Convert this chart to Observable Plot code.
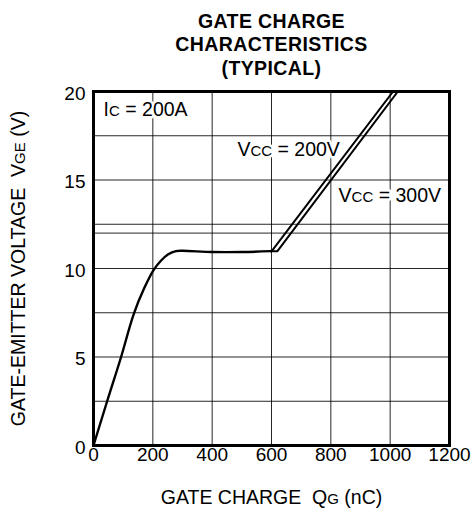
<!DOCTYPE html>
<html>
<head>
<meta charset="utf-8">
<script src="https://cdn.jsdelivr.net/npm/d3@7"></script>
<script src="https://cdn.jsdelivr.net/npm/@observablehq/plot@0.6"></script>
<style>
  html, body { margin: 0; padding: 0; background: #fff; }
  svg { display: block; }
</style>
</head>
<body>
<div id="chart"></div>
<script>
// Main curve (common part)
const qMain = [0, 46, 93, 135, 170, 203, 228, 252, 278, 300, 400, 500, 597];
const vMain = [0, 2.5, 5, 7.4, 8.85, 9.92, 10.45, 10.8, 10.98, 11.0, 10.93, 10.93, 10.98];
// VCC = 200V branch
const q200 = [597, 604, 1010];
const v200 = [10.98, 11.05, 20];
// VCC = 300V branch
const q300 = [597, 620, 1026];
const v300 = [10.98, 10.98, 20];

const xTicks = [0, 200, 400, 600, 800, 1000, 1200];
const yTicks = [0, 5, 10, 15, 20];
const xGrid = [200, 400, 600, 800, 1000];
const yGrid = [2.5, 5, 7.5, 10, 12, 12.5, 15, 17.5];

const titleLines = ["GATE CHARGE", "CHARACTERISTICS", "(TYPICAL)"];
const xLabel = "GATE CHARGE  QG (nC)";
const yLabel = "GATE-EMITTER VOLTAGE  VGE (V)";
const notes = [
  {q: 34, v: 18.95, t: "IC = 200A"},
  {q: 485, v: 16.7, t: "VCC = 200V"},
  {q: 826, v: 14.12, t: "VCC = 300V"}
];

const main = qMain.map((q, i) => ({q, v: vMain[i]}));
const b200 = q200.map((q, i) => ({q, v: v200[i]}));
const b300 = q300.map((q, i) => ({q, v: v300[i]}));

const font = "'Liberation Sans', Arial, Helvetica, sans-serif";
const FS = 19.5;
const TFS = 19;

const chart = Plot.plot({
  width: 475,
  height: 525,
  marginLeft: 93,
  marginRight: 26,
  marginTop: 91,
  marginBottom: 80,
  style: {fontFamily: font, fontSize: FS + "px", color: "#000", background: "#fff"},
  x: {domain: [0, 1200], ticks: xTicks},
  y: {domain: [0, 20], ticks: yTicks},
  marks: [
    Plot.ruleX(xGrid, {stroke: "#000", strokeWidth: 1, strokeOpacity: 0.85}),
    Plot.ruleY(yGrid, {stroke: "#000", strokeWidth: 1, strokeOpacity: 0.85}),
    Plot.axisX({ticks: xTicks, tickSize: 0, tickPadding: 2, label: null, fontSize: TFS, tickFormat: d => String(d)}),
    Plot.axisY({ticks: yTicks, tickSize: 0, tickPadding: 8, label: null, fontSize: TFS, dy: 2}),
    Plot.text(notes, {x: "q", y: "v", text: "t", textAnchor: "start", fontSize: FS, fill: "#000", stroke: "white", strokeWidth: 5, paintOrder: "stroke"}),
    Plot.line(main, {x: "q", y: "v", curve: "catmull-rom", stroke: "#000", strokeWidth: 2.4}),
    Plot.line(b200, {x: "q", y: "v", stroke: "#000", strokeWidth: 2, clip: true}),
    Plot.line(b300, {x: "q", y: "v", stroke: "#000", strokeWidth: 2, clip: true}),
    Plot.frame({stroke: "#000", strokeWidth: 3}),
    Plot.text(titleLines, {frameAnchor: "top", text: d => d, fontWeight: "bold", fontSize: FS, fill: "#000"}),
    Plot.text([xLabel], {frameAnchor: "bottom", text: d => d, dy: 52, lineAnchor: "middle", fontSize: FS, fill: "#000"}),
    Plot.text([yLabel], {frameAnchor: "left", textAnchor: "middle", lineAnchor: "middle", text: d => d, rotate: -90, dx: -75, fontSize: FS, fill: "#000"})
  ]
});

document.getElementById("chart").appendChild(chart);

// Post-process: title line positions and small-cap subscripts
const svg = d3.select(chart);
const titleY = [27, 50, 74];
svg.selectAll("text").each(function() {
  const t = this.textContent;
  const idx = titleLines.indexOf(t);
  if (idx >= 0) {
    d3.select(this).attr("x", null).attr("y", null).attr("dy", null)
      .attr("letter-spacing", "0.4")
      .attr("transform", `translate(271,${titleY[idx]})`);
  }
});

const SUB = 15;
const parts = {
  "IC = 200A": [["I", FS], ["C", SUB], [" = 200A", FS]],
  "VCC = 200V": [["V", FS], ["CC", SUB], [" = 200V", FS]],
  "VCC = 300V": [["V", FS], ["CC", SUB], [" = 300V", FS]],
  [xLabel]: [["GATE CHARGE  Q", FS], ["G", SUB], [" (nC)", FS]],
  [yLabel]: [["GATE-EMITTER VOLTAGE  V", FS], ["GE", SUB], [" (V)", FS]]
};
svg.selectAll("text").each(function() {
  const t = this.textContent;
  if (parts[t]) {
    const sel = d3.select(this);
    sel.text("");
    for (const [s, fs] of parts[t]) {
      sel.append("tspan").attr("font-size", fs).text(s);
    }
  }
});
</script>
</body>
</html>
